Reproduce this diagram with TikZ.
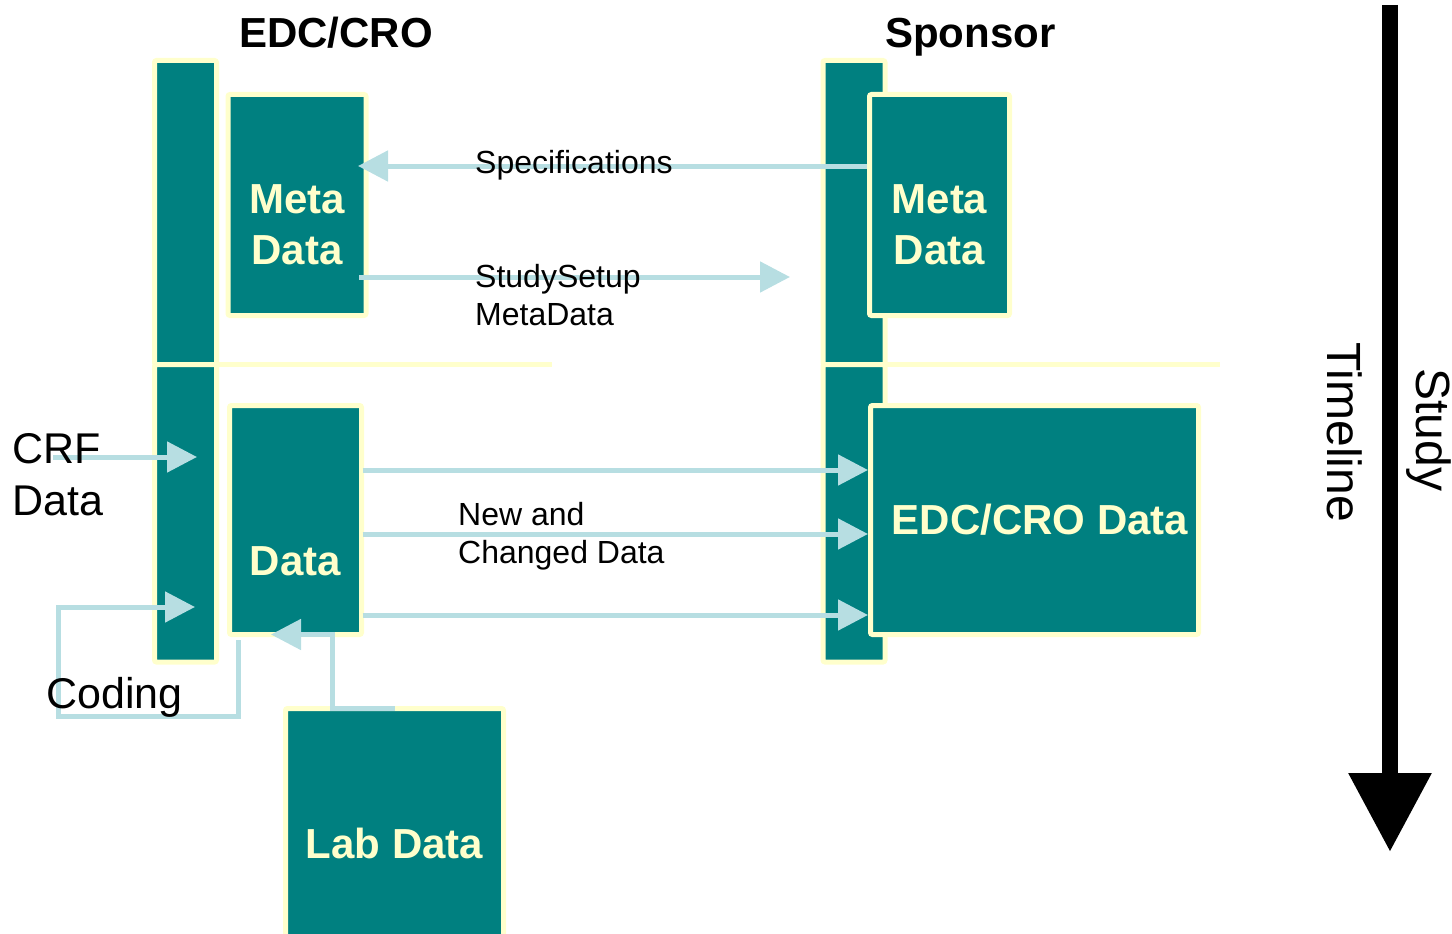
\documentclass[tikz,border=0pt]{standalone}
\usepackage{fontspec}
\setmainfont{Liberation Sans}
\usetikzlibrary{arrows.meta}
\definecolor{tealfill}{RGB}{0,128,128}
\definecolor{cream}{RGB}{255,255,204}
\definecolor{flowblue}{RGB}{183,222,226}

\begin{document}
\begin{tikzpicture}[x=1pt,y=-1pt,
  lane/.style={draw=cream, fill=tealfill, line width=5pt, rounded corners=2pt,
    inner sep=0pt, outer sep=0pt, minimum width=62pt},
  store/.style={draw=cream, fill=tealfill, line width=5pt, rounded corners=2pt,
    inner sep=0pt, outer sep=0pt},
  storetext/.style={text=cream, font=\fontsize{42}{51}\selectfont\bfseries,
    inner sep=0pt, anchor=base},
  note/.style={font=\fontsize{32}{38}\selectfont, inner sep=0pt, anchor=base west},
  bignote/.style={font=\fontsize{43}{52}\selectfont, inner sep=0pt, anchor=base west},
  title/.style={font=\fontsize{42}{52}\selectfont\bfseries, inner sep=0pt, anchor=base west},
  flow/.style={color=flowblue, line width=5pt, -{Triangle[length=30pt,width=30pt]}},
  rule/.style={draw=cream, line width=5pt},
  timetext/.style={rotate=-90, anchor=base, inner sep=0pt, font=\fontsize{48}{52}\selectfont}
]
\useasboundingbox (0,0) rectangle (1452,934);

% swim lanes: EDC/CRO on the left, sponsor on the right
\node[lane, minimum height=304pt]   (barLU) at (185.5,212.5) {};
\node[lane, minimum height=297.5pt] (barLL) at (185.5,513.25) {};
\node[lane, minimum height=304pt]   (barRU) at (854,212.5) {};
\node[lane, minimum height=297.5pt] (barRL) at (854,513.25) {};

% phase separators
\coordinate (sepL) at (552,364.5);
\coordinate (sepR) at (1220,364.5);
\draw[rule] (barLU.south east) -- (sepL);
\draw[rule] (barRU.south east) -- (sepR);

% data stores
\node[store, minimum width=138pt, minimum height=221pt] (mdL)  at (297,205) {};
\node[store, minimum width=140pt, minimum height=221pt] (mdR)  at (939.5,205) {};
\node[store, minimum width=132pt, minimum height=229pt] (data) at (295.5,520) {};
\node[store, minimum width=328pt, minimum height=229pt] (edc)  at (1034.5,520) {};
\node[store, minimum width=218pt, minimum height=272pt] (lab)  at (394.5,844.5) {};

% flows
\coordinate (ssEnd) at (790,277);
\coordinate (crfFrom) at (53,457);
\coordinate (codeTurn) at (58,716);
\draw[flow] ([xshift=-3pt,yshift=39pt]mdR.west) -- ([xshift=-8pt,yshift=39pt]mdL.east);
\draw[flow] ([xshift=-7pt,yshift=-72pt]mdL.east) -- (ssEnd);
\draw[flow] ([xshift=1pt,yshift=50pt]data.east)  -- ([xshift=-2.5pt,yshift=50pt]edc.west);
\draw[flow] ([xshift=1pt,yshift=-14pt]data.east) -- ([xshift=-2.5pt,yshift=-14pt]edc.west);
\draw[flow] ([xshift=1pt,yshift=-95pt]data.east) -- ([xshift=-2.5pt,yshift=-95pt]edc.west);
\draw[flow] (crfFrom) -- ([xshift=-19.5pt,yshift=56.25pt]barLL.east);
\draw[flow] ([xshift=8.5pt,yshift=-5.5pt]data.south west) |- (codeTurn)
  |- ([xshift=-21.5pt,yshift=-93.75pt]barLL.east);
\draw[flow] (lab.north) -| ([xshift=36.5pt]data.south) -- ([xshift=-24.5pt]data.south);

% headings
\node[title] (tEdc)  at (239,48) {EDC/CRO};
\node[title] (tSpon) at (885,48) {Sponsor};

% flow labels
\node[note] (nSpec)   at (475,173) {Specifications};
\node[note] (nSetupA) at (475,287) {StudySetup};
\node[note] (nSetupB) at (475,325) {MetaData};
\node[note] (nNewA)   at (458,525) {New and};
\node[note] (nNewB)   at (458,563) {Changed Data};
\node[bignote] (nCrfA)   at (12,463) {CRF};
\node[bignote] (nCrfB)   at (12,515) {Data};
\node[bignote] (nCoding) at (46,708) {Coding};

% store captions
\node[storetext] (mdLa) at (297,213) {Meta};
\node[storetext] (mdLb) at (297,264) {Data};
\node[storetext] (mdRa) at (939.5,213) {Meta};
\node[storetext] (mdRb) at (939.5,264) {Data};
\node[storetext] (dataT) at (295.5,575) {Data};
\node[storetext] (edcT) at (1040,534) {EDC/CRO Data};
\node[storetext] (labT) at (394.5,858) {Lab Data};

% study timeline
\coordinate (tlTop) at (1390,5);
\coordinate (tlEnd) at (1390,852);
\draw[line width=16pt, -{Triangle[length=79pt,width=79pt]}] (tlTop) -- (tlEnd);
\node[timetext] (tStudy) at (1416,430) {Study};
\node[timetext] (tTime)  at (1327,432) {Timeline};
\end{tikzpicture}
\end{document}
